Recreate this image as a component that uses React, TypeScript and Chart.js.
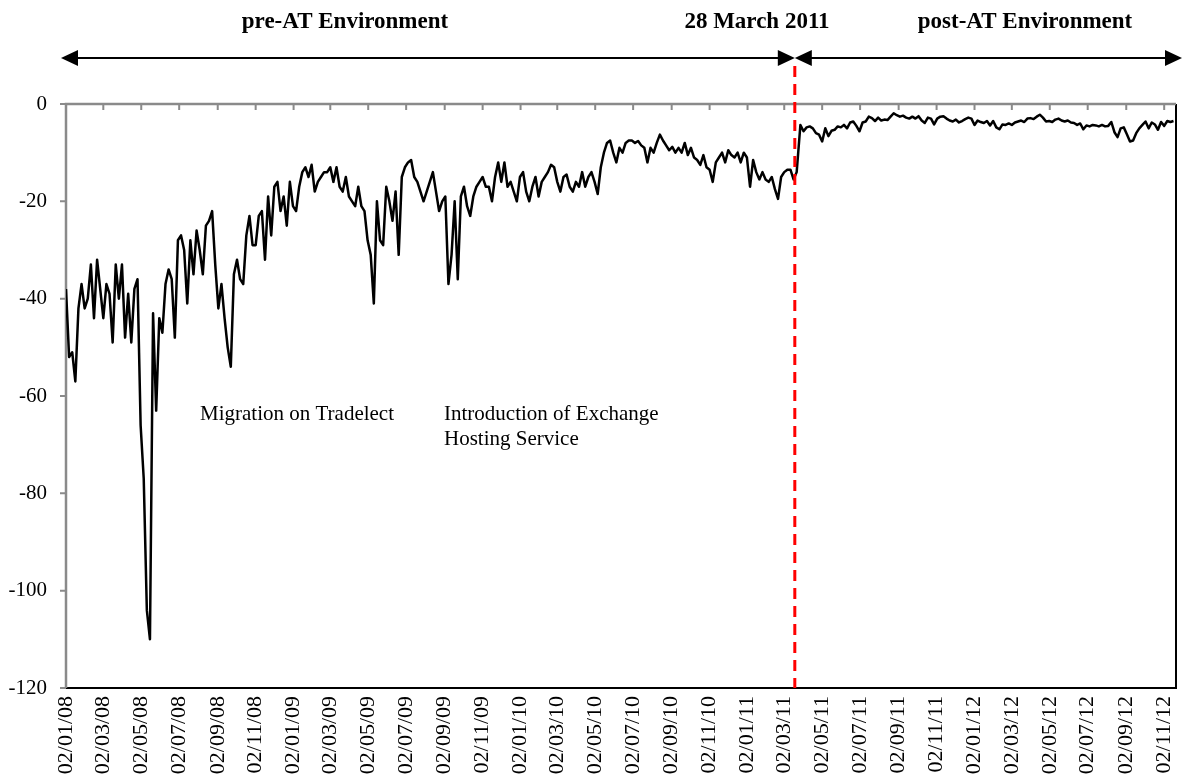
import React, { useEffect, useRef } from "react";
import { Chart, registerables } from "chart.js";

Chart.register(...registerables);

// ---------- data ----------
const ORIGIN_LABEL = "02/01/08";
const X_MAX_DAYS = 1785;
const STEP_DAYS = 5;

const tickLabels = [
  "02/01/08", "02/03/08", "02/05/08", "02/07/08", "02/09/08", "02/11/08",
  "02/01/09", "02/03/09", "02/05/09", "02/07/09", "02/09/09", "02/11/09",
  "02/01/10", "02/03/10", "02/05/10", "02/07/10", "02/09/10", "02/11/10",
  "02/01/11", "02/03/11", "02/05/11", "02/07/11", "02/09/11", "02/11/11",
  "02/01/12", "02/03/12", "02/05/12", "02/07/12", "02/09/12", "02/11/12",
];

const Y_MIN = -120;
const Y_MAX = 0;
const Y_STEP = 20;

// pre-AT environment, one reading every STEP_DAYS calendar days from preStart
const preStart = "02/01/08";
const preATValues = [
  -38, -52, -51, -57, -42, -37, -42, -40, -33, -44, -32, -38,
  -44, -37, -39, -49, -33, -40, -33, -48, -39, -49, -38, -36,
  -66, -77, -104, -110, -43, -63, -44, -47, -37, -34, -36, -48,
  -28, -27, -30, -41, -28, -35, -26, -30, -35, -25, -24, -22,
  -33, -42, -37, -44, -50, -54, -35, -32, -36, -37, -27, -23,
  -29, -29, -23, -22, -32, -19, -27, -17, -16, -22, -19, -25,
  -16, -21, -22, -17, -14, -13, -15, -12.5, -18, -16, -15, -14,
  -14, -13, -16, -13, -17, -18, -15, -19, -20, -21, -17, -21,
  -22, -28, -31, -41, -20, -28, -29, -17, -20, -24, -18, -31,
  -15, -13, -12, -11.5, -15, -16, -18, -20, -18, -16, -14, -18,
  -22, -20, -19, -37, -31, -20, -36, -19, -17, -21, -23, -19,
  -17, -16, -15, -17, -17, -20, -15, -12, -16, -12, -17, -16,
  -18, -20, -15, -14, -18, -20, -17, -15, -19, -16, -15, -14,
  -12.5, -13, -16, -18, -15, -14.5, -17, -18, -16, -17, -14, -17,
  -15, -14, -16, -18.5, -13, -10, -8, -7.5, -10, -12, -9, -10,
  -8, -7.5, -7.5, -8, -7.6, -8.5, -9, -12, -9, -10, -8, -6.3,
  -7.5, -8.5, -9.5, -8.8, -10, -9, -10, -8, -10.5, -9, -11, -11.5,
  -12.5, -10.5, -13, -13.5, -16, -12, -11, -10, -12, -9.5, -10.5, -11,
  -10, -12, -10, -11, -17, -11.5, -14, -15.5, -14, -15.5, -16, -15,
  -17.5, -19.5, -15, -14, -13.5, -13.5, -15.5, -14,
];

// post-AT environment, one reading every STEP_DAYS calendar days from postStart
const postStart = "28/03/11";
const postATValues = [
  -4.3, -5.6, -4.8, -4.6, -5, -6, -6.3, -7.7, -5, -6.6, -5.5, -5.3,
  -4.6, -4.8, -4.3, -5, -3.8, -3.6, -4.5, -5.6, -3.8, -3.6, -2.6, -2.9,
  -3.5, -2.8, -3.4, -3.2, -3.3, -2.6, -1.9, -2.3, -2.6, -2.4, -2.8, -3,
  -2.6, -3, -2.5, -3.4, -3.9, -2.8, -3, -4.2, -3, -2.6, -2.5, -3,
  -3.4, -3.6, -3.2, -3.8, -3.5, -3.1, -2.8, -3, -4.3, -3.4, -3.7, -3.9,
  -3.5, -4.4, -3.5, -4.8, -5.2, -4.2, -4.3, -4, -4.3, -3.8, -3.6, -3.4,
  -3.7, -3, -2.9, -3.1, -2.6, -2.2, -2.8, -3.6, -3.5, -3.7, -3.2, -3,
  -3.4, -3.6, -3.4, -3.8, -3.9, -4.3, -4, -5.2, -4.4, -4.6, -4.3, -4.4,
  -4.6, -4.3, -4.6, -4.5, -3.7, -5.8, -6.8, -5, -4.8, -6.2, -7.7, -7.5,
  -6, -5, -4.3, -3.6, -5, -3.8, -4.2, -5.3, -3.7, -4.5, -3.5, -3.7,
  -3.5,
];

// annotations
const headerLeft = "pre-AT Environment";
const headerMid = "28 March 2011";
const headerRight = "post-AT Environment";
const noteMigration = ["Migration on Tradelect"];
const noteHosting = ["Introduction of Exchange", "Hosting Service"];
const MARKER_DAY = 1172; // where the dashed separator is drawn in the figure

// ---------- helpers ----------
const SERIF = '"Liberation Serif", "Times New Roman", Times, serif';

function dayOf(label: string): number {
  const [d, m, y] = label.split("/").map(Number);
  const [d0, m0, y0] = ORIGIN_LABEL.split("/").map(Number);
  return Math.round(
    (Date.UTC(2000 + y, m - 1, d) - Date.UTC(2000 + y0, m0 - 1, d0)) / 86400000
  );
}

function buildSeries() {
  const a = dayOf(preStart);
  const b = dayOf(postStart);
  const pts = preATValues.map((v, i) => ({ x: a + i * STEP_DAYS, y: v }));
  postATValues.forEach((v, i) => pts.push({ x: b + i * STEP_DAYS, y: v }));
  return pts;
}

const decorPlugin = {
  id: "decor",
  beforeDatasetsDraw(chart: any) {
    const { ctx, chartArea: a, scales } = chart;
    ctx.save();
    ctx.strokeStyle = "#000";
    ctx.lineWidth = 2;
    ctx.beginPath();
    ctx.moveTo(a.left, a.bottom);
    ctx.lineTo(a.right, a.bottom);
    ctx.lineTo(a.right, a.top);
    ctx.stroke();
    ctx.strokeStyle = "#8a8a8a";
    ctx.lineWidth = 2.5;
    ctx.beginPath();
    ctx.moveTo(a.left, a.bottom);
    ctx.lineTo(a.left, a.top);
    ctx.lineTo(a.right, a.top);
    ctx.stroke();
    ctx.lineWidth = 2;
    ctx.beginPath();
    scales.x.ticks.forEach((t: any) => {
      const px = scales.x.getPixelForValue(t.value);
      ctx.moveTo(px, a.top);
      ctx.lineTo(px, a.top + 6);
    });
    scales.y.ticks.forEach((t: any) => {
      const py = scales.y.getPixelForValue(t.value);
      ctx.moveTo(a.left - 6, py);
      ctx.lineTo(a.left, py);
    });
    ctx.stroke();
    ctx.restore();
  },
  afterDatasetsDraw(chart: any) {
    const { ctx, chartArea: a, scales, width } = chart;
    const mx = scales.x.getPixelForValue(MARKER_DAY);
    const arrowY = 58;
    ctx.save();
    ctx.strokeStyle = "#ff0000";
    ctx.lineWidth = 3;
    ctx.setLineDash([11, 7]);
    ctx.beginPath();
    ctx.moveTo(mx, arrowY + 8);
    ctx.lineTo(mx, a.bottom);
    ctx.stroke();
    ctx.setLineDash([]);

    const head = 17;
    const hh = 8;
    const leftTip = 61;
    const rightTip = width - 2;
    ctx.strokeStyle = "#000";
    ctx.fillStyle = "#000";
    ctx.lineWidth = 2.2;
    ctx.beginPath();
    ctx.moveTo(leftTip + head - 2, arrowY);
    ctx.lineTo(mx - head + 2, arrowY);
    ctx.moveTo(mx + head - 2, arrowY);
    ctx.lineTo(rightTip - head + 2, arrowY);
    ctx.stroke();
    const tri = (tip: number, dir: number) => {
      ctx.beginPath();
      ctx.moveTo(tip, arrowY);
      ctx.lineTo(tip - dir * head, arrowY - hh);
      ctx.lineTo(tip - dir * head, arrowY + hh);
      ctx.closePath();
      ctx.fill();
    };
    tri(leftTip, -1);
    tri(mx, 1);
    tri(mx, -1);
    tri(rightTip, 1);

    ctx.fillStyle = "#000";
    ctx.font = `bold 23px ${SERIF}`;
    ctx.textAlign = "center";
    ctx.textBaseline = "middle";
    ctx.fillText(headerLeft, 345, 22);
    ctx.fillText(headerMid, 757, 22);
    ctx.fillText(headerRight, 1025, 22);

    ctx.font = `21px ${SERIF}`;
    ctx.textAlign = "left";
    noteMigration.forEach((s, i) => ctx.fillText(s, 200, 414 + i * 25));
    noteHosting.forEach((s, i) => ctx.fillText(s, 444, 414 + i * 25));
    ctx.restore();
  },
};

export default function App() {
  const ref = useRef<HTMLCanvasElement>(null);
  useEffect(() => {
    if (!ref.current) return;
    const chart = new Chart(ref.current, {
      type: "line",
      data: {
        datasets: [
          {
            data: buildSeries(),
            borderColor: "#000",
            borderWidth: 2.5,
            pointRadius: 0,
            tension: 0,
            borderJoinStyle: "round",
            fill: false,
          },
        ],
      },
      options: {
        animation: false,
        responsive: false,
        devicePixelRatio: 1,
        layout: { padding: { top: 104, right: 8, left: 0, bottom: 0 } },
        plugins: { legend: { display: false }, tooltip: { enabled: false } },
        scales: {
          x: {
            type: "linear",
            min: 0,
            max: X_MAX_DAYS,
            grid: { display: false, drawTicks: false },
            border: { display: false },
            afterBuildTicks: (s: any) => {
              s.ticks = tickLabels.map((l) => ({ value: dayOf(l) }));
            },
            afterFit: (s: any) => {
              s.height = 90;
              s.paddingLeft = 0;
              s.paddingRight = 0;
            },
            ticks: {
              autoSkip: false,
              minRotation: 90,
              maxRotation: 90,
              padding: 8,
              color: "#000",
              font: { family: SERIF, size: 22 },
              callback: (_v: any, i: number) => tickLabels[i],
            },
          },
          y: {
            min: Y_MIN,
            max: Y_MAX,
            grid: { display: false, drawTicks: false },
            border: { display: false },
            afterFit: (s: any) => {
              s.width = 66;
              s.paddingTop = 0;
              s.paddingBottom = 0;
            },
            ticks: {
              stepSize: Y_STEP,
              padding: 19,
              color: "#000",
              font: { family: SERIF, size: 21 },
            },
          },
        },
      },
      plugins: [decorPlugin],
    } as any);
    return () => chart.destroy();
  }, []);
  return (
    <div
      style={{
        position: "absolute",
        left: 0,
        top: 0,
        width: 1184,
        height: 778,
        background: "#fff",
      }}
    >
      <canvas
        ref={ref}
        width={1184}
        height={778}
        style={{ display: "block", width: 1184, height: 778 }}
      />
    </div>
  );
}
